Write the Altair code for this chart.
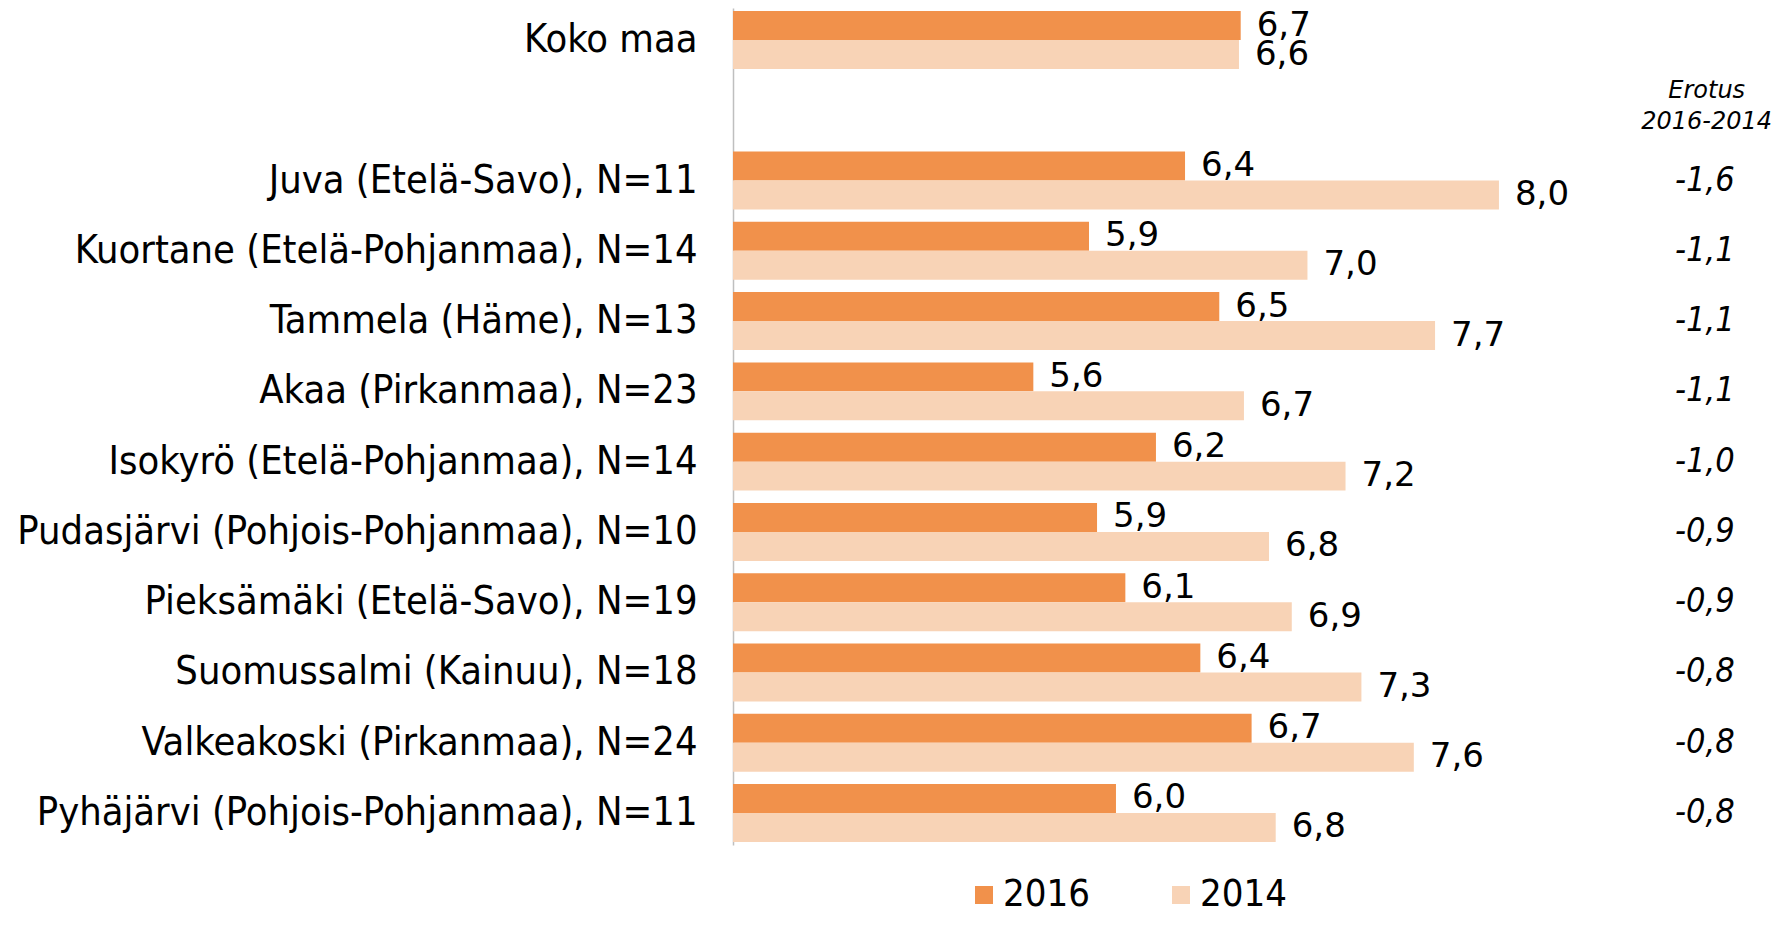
import altair as alt
import pandas as pd

FONT_C = "DejaVu Sans Condensed"
FONT = "DejaVu Sans"

categories = [
    "Koko maa",
    " ",
    "Juva (Etelä-Savo), N=11",
    "Kuortane (Etelä-Pohjanmaa), N=14",
    "Tammela (Häme), N=13",
    "Akaa (Pirkanmaa), N=23",
    "Isokyrö (Etelä-Pohjanmaa), N=14",
    "Pudasjärvi (Pohjois-Pohjanmaa), N=10",
    "Pieksämäki (Etelä-Savo), N=19",
    "Suomussalmi (Kainuu), N=18",
    "Valkeakoski (Pirkanmaa), N=24",
    "Pyhäjärvi (Pohjois-Pohjanmaa), N=11",
]
bar_categories = [c for c in categories if c.strip()]
# bar lengths (unrounded), and the printed labels
v2016 = [6.654, 6.363, 5.861, 6.542, 5.570, 6.211, 5.903, 6.051, 6.443, 6.711, 6.002]
v2014 = [6.645, 8.004, 7.003, 7.670, 6.671, 7.202, 6.802, 6.921, 7.285, 7.559, 6.837]
l2016 = ["6,7", "6,4", "5,9", "6,5", "5,6", "6,2", "5,9", "6,1", "6,4", "6,7", "6,0"]
l2014 = ["6,6", "8,0", "7,0", "7,7", "6,7", "7,2", "6,8", "6,9", "7,3", "7,6", "6,8"]
diff_categories = bar_categories[1:]
diff_labels = ["-1,6", "-1,1", "-1,1", "-1,1", "-1,0", "-0,9", "-0,9", "-0,8", "-0,8", "-0,8"]
years = ["2016", "2014"]
colors = ["#F1914B", "#F8D3B6"]
header = "Erotus\n2016-2014"

rows = []
for c, a, b, la, lb in zip(bar_categories, v2016, v2014, l2016, l2014):
    rows.append({"cat": c, "year": "2016", "value": a, "label": la})
    rows.append({"cat": c, "year": "2014", "value": b, "label": lb})
df = pd.DataFrame(rows)
df_diff = pd.DataFrame({"cat": diff_categories, "dlabel": diff_labels})
df_head = pd.DataFrame({"cat": [" "], "t": [header]})

xscale = alt.Scale(domain=[4, 9.4], nice=False, zero=False)
yscale = alt.Scale(domain=categories, paddingInner=0.175, paddingOuter=0.043)

y = alt.Y(
    "cat:N",
    scale=yscale,
    axis=alt.Axis(
        title=None, ticks=False, labelFontSize=39.5, labelFont=FONT_C,
        labelColor="black", labelPadding=36, domainColor="#BFBFBF",
        domainWidth=1.5, minExtent=725, maxExtent=725, labelLimit=0,
    ),
)
yoff = alt.YOffset("year:N", scale=alt.Scale(domain=years))
x = alt.X("value:Q", scale=xscale, axis=None)

bars = alt.Chart(df).mark_bar().encode(
    x=x,
    x2=alt.datum(4),
    y=y,
    yOffset=yoff,
    color=alt.Color(
        "year:N",
        scale=alt.Scale(domain=years, range=colors),
        legend=alt.Legend(
            title=None, orient="none", legendX=232, legendY=868,
            direction="horizontal", symbolType="square", symbolSize=324,
            symbolStrokeWidth=0, labelFontSize=38, labelFont=FONT_C,
            labelColor="black", labelOffset=0, columnPadding=72, padding=0,
        ),
    ),
)

labels = alt.Chart(df).mark_text(
    align="left", baseline="middle", dx=16, fontSize=34, font=FONT, color="black"
).encode(x=x, y=alt.Y("cat:N"), yOffset=yoff, text="label:N")

diff_text = alt.Chart(df_diff).mark_text(
    align="center", baseline="middle", fontSize=34, font=FONT_C,
    fontStyle="italic", color="black",
).encode(x=alt.datum(9.08), y=alt.Y("cat:N"), text="dlabel:N")

head_text = alt.Chart(df_head).mark_text(
    align="center", baseline="middle", fontSize=24, font=FONT,
    fontStyle="italic", color="black", lineBreak="\n", lineHeight=31, dy=-19,
).encode(x=alt.datum(9.09), y=alt.Y("cat:N"), text="t:N")

chart = (
    alt.layer(bars, labels, diff_text, head_text)
    .properties(width=1033, height=837, padding=0)
    .configure_view(stroke=None)
)

chart.save("out.html", embed_options={"renderer": "svg", "actions": False})
